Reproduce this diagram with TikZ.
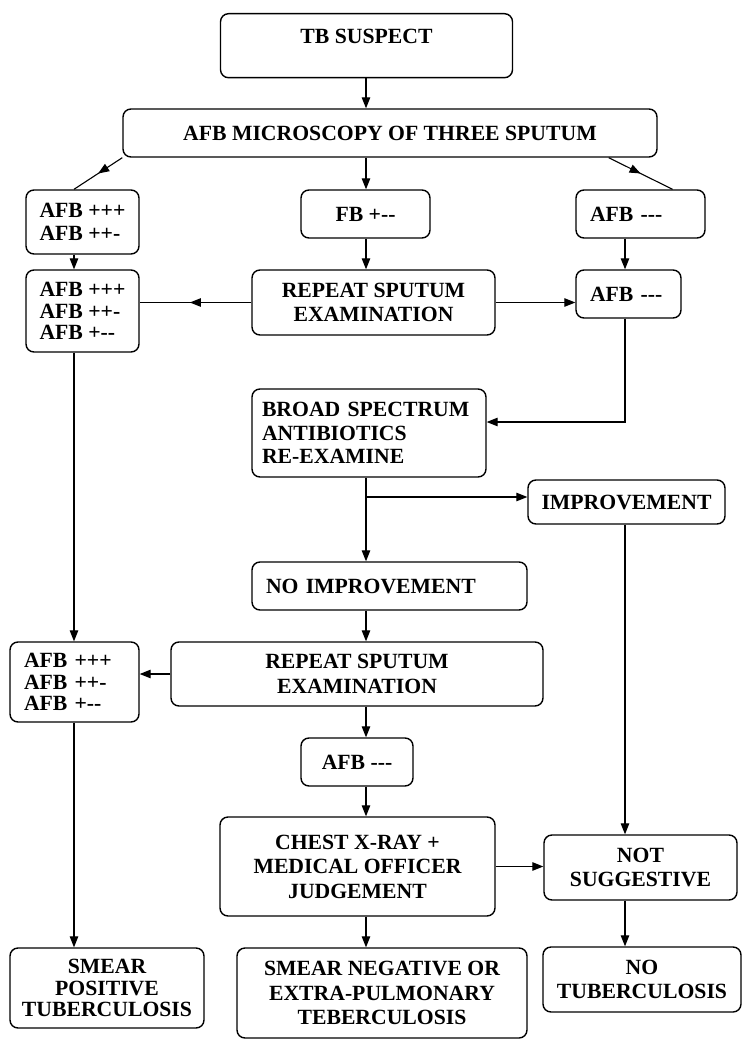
\documentclass[tikz,border=0pt]{standalone}
\usepackage{fontspec}
\setmainfont{Liberation Serif}
\usetikzlibrary{arrows.meta,decorations.markings}

% hyphen that does not join into a dash
\newcommand{\hy}{-\kern0pt }

\tikzset{
  chart/.style={x=1pt,y=-1pt},
  box/.style={draw, rounded corners=8pt, line width=1.4pt, inner sep=0pt,
    align=center, font=\bfseries\fontsize{21.7}{24.5}\selectfont},
  lbox/.style={box, align=left, inner xsep=14pt},
  tight/.style={font=\bfseries\fontsize{21.7}{21.5}\selectfont},
  link/.style={line width=1.1pt},
  arr/.style={link, -{Triangle[length=11pt,width=8.5pt]}},
  midarrow/.style={link, postaction={decorate},
    decoration={markings, mark=at position #1 with {\arrow{Triangle[length=11pt,width=8.5pt]}}}},
}

\begin{document}
\begin{tikzpicture}[chart]
\useasboundingbox (0,0) rectangle (744,1040);
% columns for the connectors
\coordinate (lcol) at (74,0);
\coordinate (mcol) at (366,0);
\coordinate (rcol) at (625,0);
\coordinate (split) at (366,497);
% Drawing boxes
\node[box, anchor=north, minimum width=292pt, text height=29.5pt, text depth=34.5pt] (suspect) at (366.5,13) {TB SUSPECT};
\node[box, minimum width=534pt, minimum height=48pt] (micro) at (390,133) {AFB MICROSCOPY OF THREE SPUTUM};
% first results
\node[box, align=left, minimum width=113pt, minimum height=64pt, font=\bfseries\fontsize{21.7}{23}\selectfont] (posA) at (82.5,222) {AFB +++\\AFB ++-};
\node[box, minimum width=129pt, minimum height=48pt] (fewA) at (365.5,214) {FB +\hy-};
\node[lbox, text width=101pt, minimum height=48pt] (negA) at (640.5,214) {AFB \hy\hy-};
% repeat examination
\node[box, align=left, minimum width=113pt, minimum height=82pt, tight] (posB) at (82.5,311) {AFB +++\\AFB ++-\\AFB +\hy-};
\node[box, minimum width=243pt, minimum height=65pt] (repeatA) at (373.5,302.5) {REPEAT SPUTUM\\EXAMINATION};
\node[lbox, text width=77pt, minimum height=48pt] (negB) at (628.5,294) {AFB \hy\hy-};
% antibiotics
\node[lbox, inner xsep=10pt, text width=214pt, minimum height=88pt, font=\bfseries\fontsize{21.7}{23.5}\selectfont] (broad) at (369,433) {BROAD SPECTRUM\\ANTIBIOTICS\\RE-EXAMINE};
\node[box, minimum width=197pt, minimum height=44pt] (imp) at (626.5,502) {IMPROVEMENT};
\node[lbox, text width=247pt, minimum height=48pt] (noimp) at (389.5,586) {NO IMPROVEMENT};
% second repeat
\node[lbox, text width=101pt, minimum height=80pt, tight] (posC) at (74.5,682) {AFB +++\\AFB ++-\\AFB +\hy-};
\node[box, minimum width=372pt, minimum height=64pt] (repeatB) at (357,674) {REPEAT SPUTUM\\EXAMINATION};
\node[box, minimum width=112pt, minimum height=48pt] (negC) at (357,762) {AFB \hy\hy-};
% x-ray
\node[box, minimum width=275pt, minimum height=99pt] (chest) at (357.5,866.5) {CHEST X-RAY +\\MEDICAL OFFICER\\JUDGEMENT};
\node[box, minimum width=193pt, minimum height=65pt] (nots) at (640.5,867.5) {NOT\\SUGGESTIVE};
% outcomes
\node[box, minimum width=194pt, minimum height=80pt, tight] (smearpos) at (107,988) {SMEAR\\POSITIVE\\TUBERCULOSIS};
\node[box, minimum width=290pt, minimum height=90pt] (smearneg) at (382,993) {SMEAR NEGATIVE OR\\EXTRA-PULMONARY\\TEBERCULOSIS};
\node[box, minimum width=198pt, minimum height=65pt] (notb) at (642,979.5) {NO\\TUBERCULOSIS};
% Drawing connectors
\draw[arr] (suspect.south -| mcol) -- (micro.north -| mcol);
\draw[midarrow=0.5] (micro.south west) -- (posA.north -| lcol);
\draw[arr] (micro.south -| mcol) -- (fewA.north -| mcol);
\draw[midarrow=0.5] ([xshift=-49pt]micro.south east) -- ([xshift=32pt]negA.north);
\draw[arr] (posA.south -| lcol) -- (posB.north -| lcol);
\draw[arr] (fewA.south -| mcol) -- (repeatA.north -| mcol);
\draw[arr] (negA.south -| rcol) -- (negB.north -| rcol);
\draw[midarrow=0.55] (repeatA.west) -- (repeatA.west -| posB.east);
\draw[arr] (repeatA.east) -- (repeatA.east -| negB.west);
\draw[arr] (negB.south -| rcol) |- ([yshift=11pt]broad.east);
\draw[arr] (broad.south -| mcol) -- (noimp.north -| mcol);
\draw[arr] (split) -- (split -| imp.west);
\draw[arr] (imp.south -| rcol) -- (nots.north -| rcol);
\draw[arr] (posB.south -| lcol) -- (posC.north -| lcol);
\draw[arr] (noimp.south -| mcol) -- (repeatB.north -| mcol);
\draw[arr] (repeatB.west) -- (repeatB.west -| posC.east);
\draw[arr] (repeatB.south -| mcol) -- (negC.north -| mcol);
\draw[arr] (negC.south -| mcol) -- (chest.north -| mcol);
\draw[arr] (chest.east) -- (chest.east -| nots.west);
\draw[arr] (nots.south -| rcol) -- (notb.north -| rcol);
\draw[arr] (chest.south -| mcol) -- (smearneg.north -| mcol);
\draw[arr] (posC.south -| lcol) -- (smearpos.north -| lcol);
\end{tikzpicture}
\end{document}
